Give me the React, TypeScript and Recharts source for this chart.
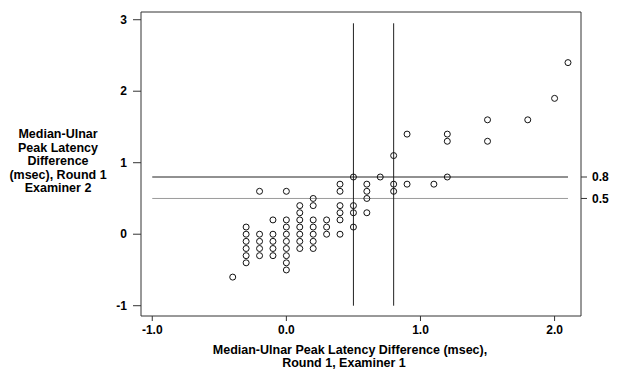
import React from 'react';
import { ScatterChart, Scatter, XAxis, YAxis, ReferenceLine } from 'recharts';

// Examiner 1 (x) vs Examiner 2 (y) median-ulnar peak latency differences (msec)
const examiner1 = [
  -0.4,
  -0.3, -0.3, -0.3, -0.3, -0.3, -0.3,
  -0.2, -0.2, -0.2, -0.2, -0.2,
  -0.1, -0.1, -0.1, -0.1, -0.1,
  0.0, 0.0, 0.0, 0.0, 0.0, 0.0, 0.0, 0.0, 0.0,
  0.1, 0.1, 0.1, 0.1, 0.1, 0.1, 0.1,
  0.2, 0.2, 0.2, 0.2, 0.2, 0.2, 0.2,
  0.3, 0.3, 0.3,
  0.4, 0.4, 0.4, 0.4, 0.4, 0.4,
  0.5, 0.5, 0.5, 0.5,
  0.6, 0.6, 0.6, 0.6,
  0.7,
  0.8, 0.8, 0.8,
  0.9, 0.9,
  1.1,
  1.2, 1.2, 1.2,
  1.5, 1.5,
  1.8,
  2.0,
  2.1,
];
const examiner2 = [
  -0.6,
  0.1, 0.0, -0.1, -0.2, -0.3, -0.4,
  0.6, 0.0, -0.1, -0.2, -0.3,
  0.2, 0.0, -0.1, -0.2, -0.3,
  0.6, 0.2, 0.1, 0.0, -0.1, -0.2, -0.3, -0.4, -0.5,
  0.4, 0.3, 0.2, 0.1, 0.0, -0.1, -0.2,
  0.5, 0.4, 0.2, 0.1, 0.0, -0.1, -0.2,
  0.2, 0.1, 0.0,
  0.7, 0.6, 0.4, 0.3, 0.2, 0.0,
  0.8, 0.4, 0.3, 0.1,
  0.7, 0.6, 0.5, 0.3,
  0.8,
  1.1, 0.7, 0.6,
  1.4, 0.7,
  0.7,
  1.4, 1.3, 0.8,
  1.6, 1.3,
  1.6,
  1.9,
  2.4,
];

const xTicks = [-1, 0, 1, 2];
const yTicks = [-1, 0, 1, 2, 3];
const cutoffs = [0.5, 0.8];
const cutoffColors = ['#9a9a9a', '#222'];
const xTitleLines = ['Median-Ulnar Peak Latency Difference (msec),', 'Round 1, Examiner 1'];
const yTitleLines = ['Median-Ulnar', 'Peak Latency', 'Difference', '(msec), Round 1', 'Examiner 2'];

const data = examiner1.map((x, i) => ({ x, y: examiner2[i] }));

const FONT = '"Liberation Sans", Arial, Helvetica, sans-serif';
const tickStyle = { fontSize: 12, fontWeight: 'bold' as const, fill: '#000', fontFamily: FONT };
const axisStroke = { stroke: '#333', strokeWidth: 1 };

const Ring = (props: any) => {
  const { cx, cy } = props;
  if (cx == null || cy == null) return null;
  return <circle cx={cx} cy={cy} r={3} fill="none" stroke="#111" strokeWidth={1} />;
};

export default function App() {
  const xDomain: [number, number] = [-1.084, 2.197];
  const yDomain: [number, number] = [-1.144, 3.108];
  return (
    <div style={{ position: 'absolute', left: 0, top: 0, width: 618, height: 372, background: '#fff' }}>
      <ScatterChart width={618} height={372} margin={{ top: 0, right: 0, bottom: 0, left: 0 }}>
        <XAxis
          xAxisId="b"
          type="number"
          dataKey="x"
          domain={xDomain}
          allowDataOverflow
          ticks={xTicks}
          tickFormatter={(v: number) => v.toFixed(1)}
          height={56}
          tickSize={5}
          tickMargin={4}
          tick={tickStyle}
          axisLine={axisStroke}
          tickLine={axisStroke}
        />
        <XAxis
          xAxisId="t"
          orientation="top"
          type="number"
          domain={xDomain}
          allowDataOverflow
          ticks={xTicks}
          tickFormatter={() => ''}
          height={12}
          tickSize={6}
          axisLine={axisStroke}
          tickLine={axisStroke}
        />
        <YAxis
          yAxisId="l"
          type="number"
          dataKey="y"
          domain={yDomain}
          allowDataOverflow
          ticks={yTicks}
          tickFormatter={(v: number) => String(v)}
          width={141}
          tickSize={8}
          tickMargin={6}
          tick={tickStyle}
          axisLine={axisStroke}
          tickLine={axisStroke}
        />
        <YAxis
          yAxisId="r"
          orientation="right"
          type="number"
          domain={yDomain}
          allowDataOverflow
          ticks={cutoffs}
          tickFormatter={(v: number) => v.toFixed(1)}
          width={37}
          tickSize={6}
          tickMargin={5}
          tick={tickStyle}
          axisLine={axisStroke}
          tickLine={axisStroke}
        />
        {cutoffs.map((c, i) => (
          <ReferenceLine
            key={'h' + c}
            xAxisId="b"
            yAxisId="l"
            segment={[{ x: -1, y: c }, { x: 2.1, y: c }]}
            stroke={cutoffColors[i]}
            strokeWidth={1}
          />
        ))}
        {cutoffs.map((c) => (
          <ReferenceLine
            key={'v' + c}
            xAxisId="b"
            yAxisId="l"
            segment={[{ x: c, y: -1 }, { x: c, y: 2.95 }]}
            stroke="#222"
            strokeWidth={1}
          />
        ))}
        <Scatter
          xAxisId="b"
          yAxisId="l"
          data={data}
          shape={Ring}
          isAnimationActive={false}
        />
      </ScatterChart>
      <svg
        width={618}
        height={372}
        style={{ position: 'absolute', left: 0, top: 0, pointerEvents: 'none' }}
      >
        <g fontFamily={FONT} fontWeight="bold" fontSize={12.5} fill="#000">
          <text x={350} y={354} textAnchor="middle">{xTitleLines[0]}</text>
          <text x={344} y={367} textAnchor="middle">{xTitleLines[1]}</text>
          {yTitleLines.map((t, i) => (
            <text key={t} x={58} y={138 + i * 13.5} textAnchor="middle">{t}</text>
          ))}
        </g>
      </svg>
    </div>
  );
}
